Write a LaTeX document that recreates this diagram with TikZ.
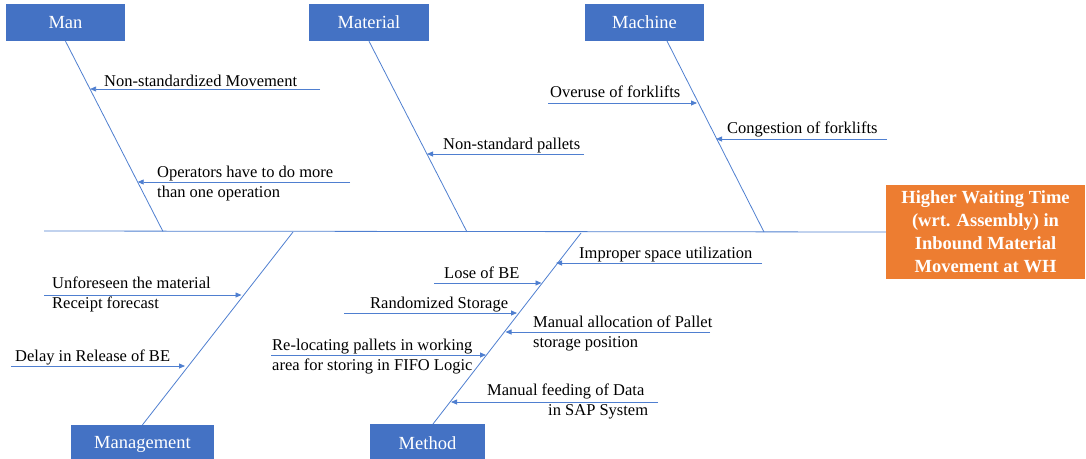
\documentclass[tikz,border=0pt]{standalone}
\usepackage{fontspec}
\setmainfont{Liberation Serif}
\usetikzlibrary{arrows.meta,calc}
\definecolor{boxblue}{HTML}{4472C4}
\definecolor{effor}{HTML}{ED7D31}
\definecolor{lineblue}{HTML}{4F7FD0}
\newcommand{\twolines}[2]{\begin{tabular}[t]{@{}l@{}}#1\\#2\end{tabular}}
\begin{document}
\begin{tikzpicture}[x=1pt,y=-1pt,
  catbox/.style={fill=boxblue, text=white, font=\fontsize{18.5}{22}\selectfont, minimum height=37pt, inner sep=0pt},
  effbox/.style={fill=effor, text=white, font=\bfseries\fontsize{18.5}{23}\selectfont, align=center, inner sep=0pt, minimum width=199pt, minimum height=94pt},
  cause/.style={text=black, font=\fontsize{16.5}{20.5}\selectfont, inner sep=0pt, anchor=base west},
  bone/.style={draw=lineblue, line width=0.8pt},
  arr/.style={bone, -{Triangle[length=6pt,width=5pt]}}]
\useasboundingbox (0,0) rectangle (1086,458);

% category boxes
\node[catbox, minimum width=119pt] (man) at (65.5,22.5) {Man};
\node[catbox, minimum width=120pt] (material) at (369,22.5) {Material};
\node[catbox, minimum width=119pt] (machine) at (644.5,22.5) {Machine};
\node[catbox, minimum width=143pt, minimum height=38pt] (management) at (142.5,444) {Management};
\node[catbox, minimum width=115pt, minimum height=39pt] (method) at (427.5,443.5) {Method};

% effect
\node[effbox] (effect) at (985.5,232) {Higher Waiting Time\\(wrt. Assembly) in\\Inbound Material\\Movement at WH};

% spine
\coordinate (spL) at (44,231);
\draw[bone] (spL) -- (effect.west);

% bones
\coordinate (manB) at (163,231.5);
\coordinate (matB) at (467,232);
\coordinate (macT) at (667,41);
\coordinate (macB) at (764,232);
\coordinate (mgtT) at (293,232);
\coordinate (mthT) at (581,233);
\coordinate (mthB) at (433,424);
\draw[bone] (man.south) -- (manB);
\draw[bone] (material.south) -- (matB);
\draw[bone] (macT) -- (macB);
\draw[bone] (mgtT) -- (management.north);
\draw[bone] (mthT) -- (mthB);

% Man causes
\coordinate (t1) at (90.1,89);  \coordinate (f1) at (320,89);
\draw[arr] (f1) -- (t1);
\node[cause] (c1) at (104,86) {Non-standardized Movement};
\coordinate (t2) at (137.7,182); \coordinate (f2) at (350,182);
\draw[arr] (f2) -- (t2);
\node[cause] (c2) at (157,177) {\twolines{Operators have to do more}{than one operation}};

% Material causes
\coordinate (t3) at (427,154); \coordinate (f3) at (584,154);
\draw[arr] (f3) -- (t3);
\node[cause] (c3) at (443,149) {Non-standard pallets};

% Machine causes
\coordinate (t4) at (697,103); \coordinate (f4) at (548,103);
\draw[arr] (f4) -- (t4);
\node[cause] (c4) at (550,97) {Overuse of forklifts};
\coordinate (t5) at (716,139); \coordinate (f5) at (887,139);
\draw[arr] (f5) -- (t5);
\node[cause] (c5) at (727,133) {Congestion of forklifts};

% Management causes
\coordinate (t6) at (241.5,295); \coordinate (f6) at (44,295);
\draw[arr] (f6) -- (t6);
\node[cause] (c6) at (52,288) {\twolines{Unforeseen the material}{Receipt forecast}};
\coordinate (t7) at (185,366); \coordinate (f7) at (11,366);
\draw[arr] (f7) -- (t7);
\node[cause] (c7) at (15,361) {Delay in Release of BE};

% Method causes
\coordinate (t8) at (556,263); \coordinate (f8) at (762,263);
\draw[arr] (f8) -- (t8);
\node[cause] (c8) at (579,258) {Improper space utilization};
\coordinate (t9) at (541.5,283); \coordinate (f9) at (434,283);
\draw[arr] (f9) -- (t9);
\node[cause] (c9) at (444,278) {Lose of BE};
\coordinate (t10) at (517,313); \coordinate (f10) at (344,313);
\draw[arr] (f10) -- (t10);
\node[cause] (c10) at (370,308) {Randomized Storage};
\coordinate (t11) at (505.5,332); \coordinate (f11) at (710,332);
\draw[arr] (f11) -- (t11);
\node[cause] (c11) at (533,327) {\twolines{Manual allocation of Pallet}{storage position}};
\coordinate (t12) at (486,355); \coordinate (f12) at (271,355);
\draw[arr] (f12) -- (t12);
\node[cause] (c12) at (272,350) {\twolines{Re-locating pallets in working}{area for storing in FIFO Logic}};
\coordinate (t13) at (451,402); \coordinate (f13) at (658,402);
\draw[arr] (f13) -- (t13);
\node[cause] (c13) at (487,395) {\twolines{Manual feeding of Data}{\hspace*{61pt}in SAP System}};
\end{tikzpicture}
\end{document}
